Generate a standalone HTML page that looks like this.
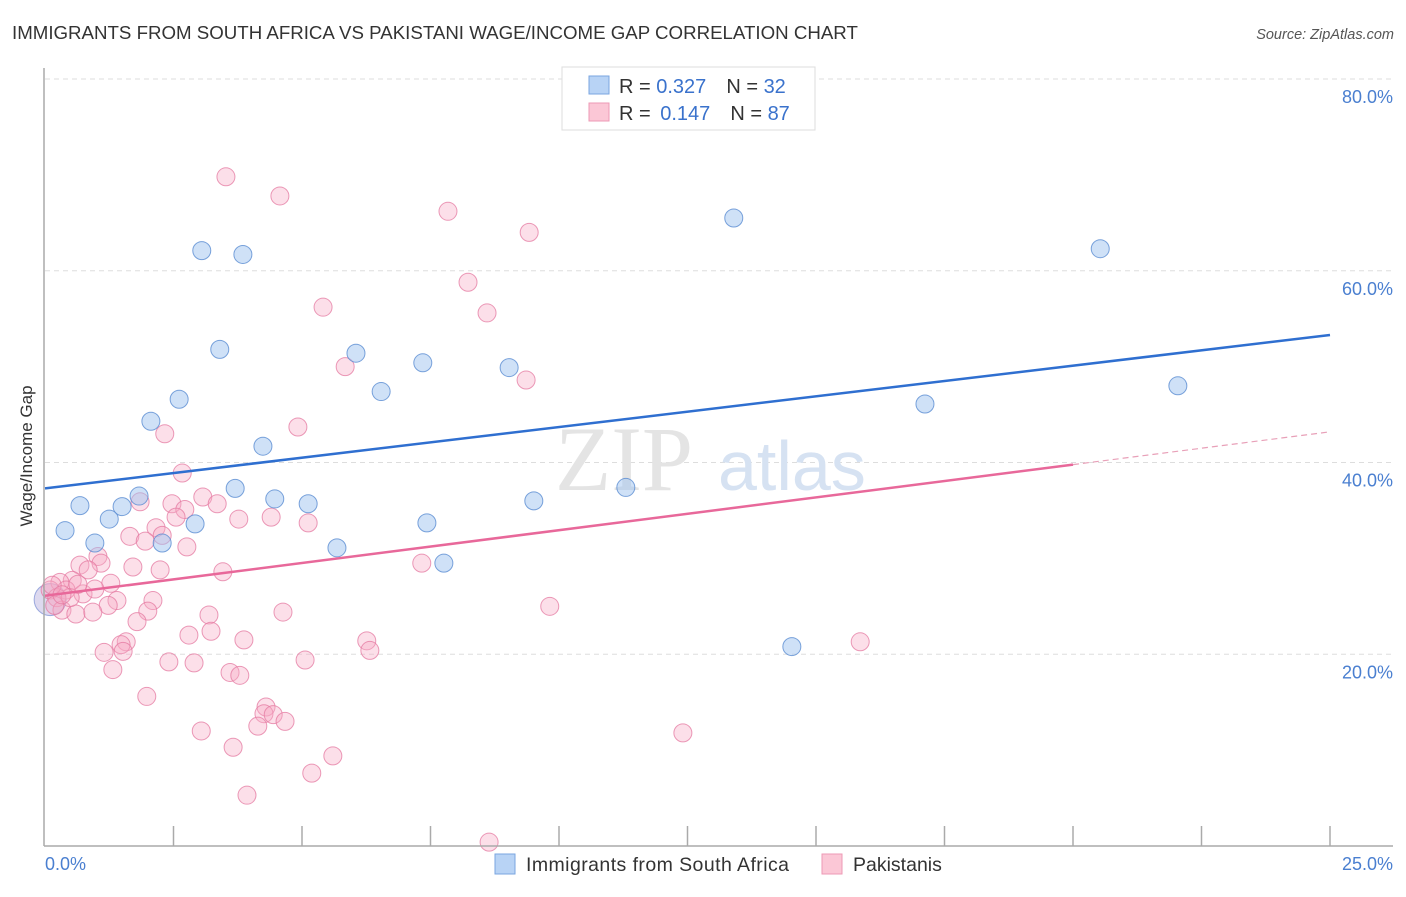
<!DOCTYPE html>
<html><head><meta charset="utf-8"><style>
body{margin:0;background:#fff;font-family:"Liberation Sans",sans-serif}
</style></head><body>
<svg width="1406" height="892" xmlns="http://www.w3.org/2000/svg" id="svg">
<text x="12" y="39" font-size="18.7" fill="#333">IMMIGRANTS FROM SOUTH AFRICA VS PAKISTANI WAGE/INCOME GAP CORRELATION CHART</text>
<text x="1394" y="39" font-size="14.5" fill="#555" font-style="italic" text-anchor="end">Source: ZipAtlas.com</text>
<text x="32" y="456" font-size="17" fill="#333" text-anchor="middle" transform="rotate(-90 32 456)">Wage/Income Gap</text>
<g id="grid"></g>
<text x="555" y="490" font-size="92" fill="#e4e4e4" font-family="Liberation Serif">ZIP</text>
<text x="718" y="490" font-size="70" fill="#d6e2f2">atlas</text>
<g id="pts"></g>
<g id="lines"></g>
<line x1="44" y1="68" x2="44" y2="846" stroke="#aaa" stroke-width="1.5"/>
<line x1="44" y1="846" x2="1393" y2="846" stroke="#aaa" stroke-width="1.5"/>
<g id="xt"></g>
<text x="45" y="870" font-size="18" fill="#4a7fd0">0.0%</text>
<text x="1393" y="870" font-size="18" fill="#4a7fd0" text-anchor="end">25.0%</text>
<g>
<rect x="562" y="67" width="253" height="63" fill="#fff" stroke="#ddd"/>
<rect x="589" y="76" width="20" height="18" fill="#b8d3f5" stroke="#7aa6e0"/>
<rect x="589" y="103" width="20" height="18" fill="#fbc7d6" stroke="#ee9ab5"/>
<text x="619" y="93" font-size="20" fill="#333">R = <tspan fill="#3a72cc">0.327</tspan><tspan dx="20">N = </tspan><tspan fill="#3a72cc">32</tspan></text>
<text x="619" y="120" font-size="20" fill="#333">R = <tspan fill="#3a72cc" dx="4">0.147</tspan><tspan dx="20">N = </tspan><tspan fill="#3a72cc">87</tspan></text>
</g>
<g>
<rect x="495" y="854" width="20" height="20" fill="#b8d3f5" stroke="#7aa6e0"/>
<text x="526" y="871" font-size="19.5" fill="#333" textLength="263">Immigrants from South Africa</text>
<rect x="822" y="854" width="20" height="20" fill="#fbc7d6" stroke="#ee9ab5"/>
<text x="853" y="871" font-size="19.5" fill="#333">Pakistanis</text>
</g>
</svg>
<script>
const blueX=[0.39,0.68,0.97,1.25,1.50,1.83,2.06,2.28,2.61,2.92,3.05,3.40,3.70,3.85,4.24,4.47,5.12,5.68,6.05,6.54,7.35,7.43,7.76,9.03,9.51,11.30,13.40,14.53,17.12,20.53,22.04];
const blueY=[32.9,35.5,31.6,34.1,35.4,36.5,44.3,31.6,46.6,33.6,62.1,51.8,37.3,61.7,41.7,36.2,35.7,31.1,51.4,47.4,50.4,33.7,29.5,49.9,36.0,37.4,65.5,20.8,46.1,62.3,48.0];
const pinkX=[3.52,4.57,7.84,9.42,8.23,5.41,8.60,5.84,9.36,2.33,4.92,2.67,3.07,1.85,2.47,3.35,2.72,2.55,3.77,4.40,5.12,2.16,2.28,1.65,1.95,2.76,1.03,0.68,1.09,0.84,1.71,2.24,7.33,3.46,0.53,0.29,1.28,0.41,0.74,0.10,0.23,1.40,2.10,1.23,0.33,0.60,0.93,2.00,3.19,4.63,9.82,1.79,3.23,2.80,1.58,1.48,3.87,6.26,6.32,15.86,1.15,1.52,2.41,2.90,5.06,1.32,3.60,3.79,1.98,4.30,4.26,4.44,4.67,4.14,3.04,12.41,3.66,5.60,5.19,3.93,8.64,0.14,0.49,0.19,0.97,0.33,0.64];
const pinkY=[69.8,67.8,66.2,64.0,58.8,56.2,55.6,50.0,48.6,43.0,43.7,38.9,36.4,35.9,35.7,35.7,35.1,34.3,34.1,34.3,33.7,33.2,32.4,32.3,31.8,31.2,30.2,29.3,29.5,28.8,29.1,28.8,29.5,28.6,27.7,27.5,27.4,26.7,26.3,26.7,25.9,25.6,25.6,25.1,24.6,24.2,24.4,24.5,24.1,24.4,25.0,23.4,22.4,22.0,21.3,21.0,21.5,21.4,20.4,21.3,20.2,20.3,19.2,19.1,19.4,18.4,18.1,17.8,15.6,14.5,13.8,13.7,13.0,12.5,12.0,11.8,10.3,9.4,7.6,5.3,0.4,27.2,25.9,25.1,26.8,26.2,27.3];
const yTicks=[20,40,60,80];
const yTickLabels=["20.0%","40.0%","60.0%","80.0%"];
const blueTrend=[37.3,53.3];
const pinkTrend=[26.1,43.2];
const NS="http://www.w3.org/2000/svg";
const sx=v=>45+v*51.4, sy=v=>846-v*9.5875;
function mk(t,a,p){const e=document.createElementNS(NS,t);for(const k in a)e.setAttribute(k,a[k]);document.getElementById(p).appendChild(e);return e;}
yTicks.forEach((t,i)=>{
 const l=mk('line',{x1:45,x2:1393,y1:sy(t),y2:sy(t),stroke:'#ddd','stroke-dasharray':'5,4'},'grid');
 
 
 const tx=mk('text',{x:1393,y:sy(t)+24,'font-size':18,fill:'#4a7fd0','text-anchor':'end'},'grid');
 tx.textContent=yTickLabels[i];
 
 
});
const tl=mk('line',{x1:45,x2:1393,y1:79,y2:79,stroke:'#ddd','stroke-dasharray':'5,4'},'grid');


for(let i=1;i<=10;i++){
 const l=mk('line',{x1:sx(i*2.5),x2:sx(i*2.5),y1:826,y2:846,stroke:'#aaa','stroke-width':1.5},'xt');
 
 
}
const big=mk('circle',{cx:sx(0.1),cy:sy(25.7),r:16,fill:'rgba(180,170,220,0.45)',stroke:'rgba(120,140,210,0.7)'},'pts');


pinkX.forEach((x,i)=>{
 const c=mk('circle',{cx:sx(x),cy:sy(pinkY[i]),r:9,fill:'rgba(246,170,196,0.38)',stroke:'rgba(228,120,160,0.75)','stroke-width':1},'pts');
 
 
});
blueX.forEach((x,i)=>{
 const c=mk('circle',{cx:sx(x),cy:sy(blueY[i]),r:9,fill:'rgba(160,196,240,0.5)',stroke:'rgba(90,140,210,0.8)','stroke-width':1},'pts');
 
 
});
const bl=mk('line',{x1:sx(0),y1:sy(blueTrend[0]),x2:sx(25),y2:sy(blueTrend[1]),stroke:'#2f6fd0','stroke-width':2.5},'lines');


const pm=pinkTrend[0]+(pinkTrend[1]-pinkTrend[0])*20/25;
const pl=mk('line',{x1:sx(0),y1:sy(pinkTrend[0]),x2:sx(20),y2:sy(pm),stroke:'#e8689a','stroke-width':2.5},'lines');


const pd=mk('line',{x1:sx(20),y1:sy(pm),x2:sx(25),y2:sy(pinkTrend[1]),stroke:'#e8a0b8','stroke-width':1.2,'stroke-dasharray':'6,4'},'lines');


</script>
</body></html>
